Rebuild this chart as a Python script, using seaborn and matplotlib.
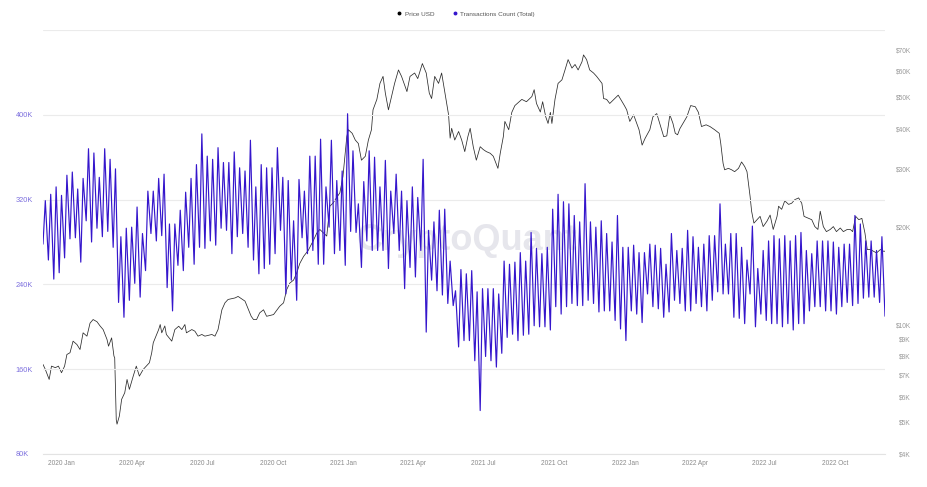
import matplotlib
matplotlib.use("Agg")
import matplotlib.pyplot as plt
import numpy as np
import pandas as pd
import seaborn as sns
from matplotlib.lines import Line2D
from matplotlib.ticker import NullLocator

# ---------------- data ----------------
# Transactions Count (Total), thousands: weekly weekend lows (Sundays) and weekday highs (Wednesdays)
TX_TROUGH_START = "2019-12-08"
TX_PEAK_START = "2019-12-11"
TX_TROUGHS_K = [
    278, 263, 245, 251, 265, 283, 284, 261, 300, 280,
    293, 285, 290, 275, 223, 209, 225, 241, 228, 253,
    288, 281, 286, 237, 215, 258, 253, 275, 259, 275,
    274, 281, 277, 293, 291, 269, 285, 288, 275, 263,
    250, 255, 259, 269, 291, 231, 244, 225, 284, 269,
    272, 259, 259, 294, 269, 272, 258, 290, 289, 256,
    281, 272, 272, 272, 255, 288, 272, 236, 256, 247,
    272, 195, 244, 234, 230, 222, 220, 181, 187, 187,
    168, 121, 172, 168, 162, 175, 190, 193, 187, 192,
    193, 201, 200, 200, 197, 219, 212, 219, 222, 220,
    220, 225, 222, 214, 215, 215, 206, 198, 187, 215,
    212, 204, 231, 219, 217, 209, 214, 225, 222, 215,
    215, 222, 219, 215, 225, 233, 231, 231, 209, 208,
    203, 231, 200, 212, 206, 203, 203, 200, 203, 197,
    203, 203, 215, 219, 219, 215, 215, 212, 219, 223,
    220, 222, 227, 228, 228, 223, 210,
]
TX_PEAKS_K = [
    319, 325, 332, 324, 343, 346, 330, 340, 368, 364,
    341, 368, 358, 349, 285, 293, 294, 313, 288, 328,
    328, 340, 344, 297, 297, 310, 327, 340, 353, 382,
    361, 358, 369, 355, 355, 365, 350, 347, 376, 332,
    353, 350, 350, 369, 341, 338, 300, 339, 328, 361,
    361, 377, 332, 376, 338, 347, 401, 366, 316, 337,
    366, 360, 332, 357, 328, 344, 328, 319, 332, 322,
    358, 291, 299, 310, 311, 262, 234, 254, 250, 253,
    233, 236, 236, 236, 231, 262, 259, 261, 270, 262,
    289, 274, 269, 275, 311, 325, 318, 316, 305, 299,
    335, 299, 294, 300, 288, 280, 305, 275, 275, 277,
    270, 270, 278, 277, 274, 259, 288, 272, 274, 291,
    285, 275, 278, 286, 286, 316, 278, 288, 288, 275,
    263, 295, 255, 272, 281, 286, 283, 286, 281, 286,
    289, 272, 269, 281, 281, 281, 280, 275, 278, 278,
    305, 297, 281, 281, 272, 285,
]

# Price USD, thousands
PRICE_DATES = [
    "2019-12-08", "2019-12-11", "2019-12-16", "2019-12-19", "2019-12-24", "2019-12-28",
    "2020-01-01", "2020-01-05", "2020-01-08", "2020-01-12", "2020-01-16", "2020-01-21",
    "2020-01-25", "2020-01-29", "2020-02-03", "2020-02-07", "2020-02-11", "2020-02-16",
    "2020-02-20", "2020-02-24", "2020-02-29", "2020-03-02", "2020-03-06", "2020-03-09",
    "2020-03-10", "2020-03-12", "2020-03-13", "2020-03-16", "2020-03-19", "2020-03-23",
    "2020-03-26", "2020-03-29", "2020-04-03", "2020-04-07", "2020-04-11", "2020-04-16",
    "2020-04-20", "2020-04-24", "2020-04-27", "2020-04-29", "2020-05-06", "2020-05-08",
    "2020-05-10", "2020-05-14", "2020-05-16", "2020-05-23", "2020-05-27", "2020-06-01",
    "2020-06-05", "2020-06-09", "2020-06-11", "2020-06-18", "2020-06-22", "2020-06-26",
    "2020-07-01", "2020-07-05", "2020-07-14", "2020-07-18", "2020-07-22", "2020-07-27",
    "2020-07-31", "2020-08-04", "2020-08-13", "2020-08-17", "2020-08-26", "2020-09-03",
    "2020-09-06", "2020-09-10", "2020-09-14", "2020-09-19", "2020-09-23", "2020-10-02",
    "2020-10-10", "2020-10-15", "2020-10-19", "2020-10-23", "2020-10-28", "2020-11-01",
    "2020-11-05", "2020-11-10", "2020-11-16", "2020-11-23", "2020-11-27", "2020-12-01",
    "2020-12-10", "2020-12-14", "2020-12-18", "2020-12-27", "2020-12-31", "2021-01-05",
    "2021-01-07", "2021-01-12", "2021-01-16", "2021-01-20", "2021-01-24", "2021-01-29",
    "2021-02-02", "2021-02-06", "2021-02-08", "2021-02-13", "2021-02-17", "2021-02-21",
    "2021-02-24", "2021-02-28", "2021-03-04", "2021-03-08", "2021-03-13", "2021-03-17",
    "2021-03-24", "2021-03-28", "2021-04-03", "2021-04-07", "2021-04-13", "2021-04-18",
    "2021-04-22", "2021-04-25", "2021-04-29", "2021-05-04", "2021-05-08", "2021-05-13",
    "2021-05-17", "2021-05-19", "2021-05-21", "2021-05-25", "2021-05-30", "2021-06-03",
    "2021-06-07", "2021-06-11", "2021-06-14", "2021-06-18", "2021-06-22", "2021-06-27",
    "2021-07-01", "2021-07-05", "2021-07-10", "2021-07-14", "2021-07-20", "2021-07-23",
    "2021-07-27", "2021-07-29", "2021-08-03", "2021-08-07", "2021-08-11", "2021-08-20",
    "2021-08-26", "2021-09-02", "2021-09-05", "2021-09-08", "2021-09-13", "2021-09-16",
    "2021-09-20", "2021-09-23", "2021-09-26", "2021-09-28", "2021-10-02", "2021-10-06",
    "2021-10-11", "2021-10-15", "2021-10-19", "2021-10-24", "2021-10-28", "2021-11-01",
    "2021-11-06", "2021-11-08", "2021-11-12", "2021-11-16", "2021-11-21", "2021-11-25",
    "2021-12-02", "2021-12-04", "2021-12-08", "2021-12-12", "2021-12-23", "2021-12-31",
    "2022-01-03", "2022-01-07", "2022-01-12", "2022-01-19", "2022-01-23", "2022-01-27",
    "2022-02-02", "2022-02-06", "2022-02-11", "2022-02-20", "2022-02-24", "2022-02-28",
    "2022-03-04", "2022-03-07", "2022-03-10", "2022-03-13", "2022-03-22", "2022-03-27",
    "2022-04-02", "2022-04-06", "2022-04-10", "2022-04-16", "2022-04-21", "2022-04-27",
    "2022-05-03", "2022-05-05", "2022-05-08", "2022-05-10", "2022-05-15", "2022-05-19",
    "2022-05-23", "2022-05-28", "2022-06-01", "2022-06-05", "2022-06-08", "2022-06-11",
    "2022-06-12", "2022-06-14", "2022-06-17", "2022-06-21", "2022-06-25", "2022-06-29",
    "2022-07-04", "2022-07-08", "2022-07-12", "2022-07-17", "2022-07-19", "2022-07-23",
    "2022-07-27", "2022-08-01", "2022-08-05", "2022-08-09", "2022-08-14", "2022-08-18",
    "2022-08-21", "2022-08-27", "2022-08-31", "2022-09-04", "2022-09-08", "2022-09-11",
    "2022-09-15", "2022-09-19", "2022-09-24", "2022-09-28", "2022-10-02", "2022-10-07",
    "2022-10-11", "2022-10-16", "2022-10-20", "2022-10-23", "2022-10-27", "2022-10-31",
    "2022-11-04", "2022-11-08", "2022-11-11", "2022-11-15", "2022-11-19", "2022-11-23",
    "2022-11-28", "2022-12-02", "2022-12-04",
]
PRICE_K = [
    7.54, 7.28, 6.78, 7.45, 7.37, 7.45,
    7.11, 7.45, 8.09, 8.19, 8.89, 8.68,
    8.38, 9.43, 9.21, 10.1, 10.36, 10.2,
    9.9, 9.65, 9.0, 8.58, 9.1, 8.0,
    7.9, 5.1, 4.94, 5.23, 5.89, 6.17,
    6.78, 6.32, 6.94, 7.45, 6.94, 7.28,
    7.45, 7.63, 8.19, 8.79, 9.65, 10.0,
    9.43, 9.9, 9.32, 8.89, 9.65, 9.88,
    9.65, 10.0, 9.43, 9.65, 9.54, 9.21,
    9.32, 9.21, 9.32, 9.21, 9.65, 11.1,
    11.66, 11.94, 12.07, 12.2, 11.8, 10.6,
    10.36, 10.36, 10.86, 11.1, 10.6, 10.73,
    11.38, 11.66, 12.8, 13.4, 13.7, 14.4,
    15.4, 16.2, 16.9, 18.2, 19.1, 19.6,
    18.7, 23.1, 23.6, 25.4, 28.5, 37.8,
    39.7, 38.7, 36.9, 36.0, 32.0, 32.9,
    36.9, 39.7, 45.7, 49.2, 55.1, 57.9,
    51.4, 45.7, 50.2, 55.1, 60.6, 57.9,
    52.0, 57.9, 59.3, 57.0, 63.4, 59.3,
    51.4, 49.5, 57.9, 55.1, 59.3, 50.2,
    44.1, 37.4, 40.1, 36.9, 39.2, 36.9,
    34.0, 37.8, 40.1, 35.2, 32.0, 35.2,
    34.5, 34.0, 33.6, 32.9, 30.2, 33.6,
    37.8, 42.1, 39.7, 44.9, 47.1, 49.2,
    48.4, 50.2, 52.7, 47.8, 45.0, 48.4,
    43.5, 41.5, 44.9, 41.5, 49.2, 55.1,
    56.5, 60.6, 65.2, 61.4, 63.0, 60.6,
    64.2, 67.4, 65.2, 60.6, 59.3, 57.9,
    55.1, 49.5, 49.2, 47.8, 50.7, 47.1,
    45.7, 42.1, 44.1, 39.7, 35.6, 37.4,
    39.7, 43.5, 44.5, 37.8, 38.0, 44.1,
    41.5, 38.7, 38.3, 40.0, 43.5, 47.1,
    46.7, 44.9, 40.6, 41.1, 40.6, 39.7,
    38.7, 36.0, 31.3, 29.9, 30.2, 29.9,
    29.5, 30.2, 31.6, 30.6, 29.5, 25.9,
    24.8, 22.3, 20.5, 21.0, 21.5, 20.0,
    20.8, 21.7, 19.6, 21.5, 23.1, 22.6,
    24.0, 23.4, 23.6, 24.2, 24.5, 23.6,
    21.5, 21.2, 21.0, 20.0, 19.6, 22.3,
    20.0, 19.3, 19.6, 20.0, 19.3, 19.8,
    19.3, 19.6, 19.6, 19.3, 21.5, 21.0,
    21.2, 19.1, 17.0, 17.0, 16.8, 16.6,
    17.0, 16.8, 16.8,
]

X_TICK_DATES = ["2020-01-01", "2020-04-01", "2020-07-01", "2020-10-01",
                "2021-01-01", "2021-04-01", "2021-07-01", "2021-10-01",
                "2022-01-01", "2022-04-01", "2022-07-01", "2022-10-01"]
X_TICK_LABELS = ["2020 Jan", "2020 Apr", "2020 Jul", "2020 Oct",
                 "2021 Jan", "2021 Apr", "2021 Jul", "2021 Oct",
                 "2022 Jan", "2022 Apr", "2022 Jul", "2022 Oct"]
LEFT_TICKS_K = [80, 160, 240, 320, 400]
LEFT_TICK_LABELS = ["80K", "160K", "240K", "320K", "400K"]
RIGHT_TICKS_K = [4, 5, 6, 7, 8, 9, 10, 20, 30, 40, 50, 60, 70]
RIGHT_TICK_LABELS = ["$4K", "$5K", "$6K", "$7K", "$8K", "$9K", "$10K",
                     "$20K", "$30K", "$40K", "$50K", "$60K", "$70K"]
SERIES_NAMES = ["Price USD", "Transactions Count (Total)"]

# ---------------- build frames ----------------
tx_df = pd.concat([
    pd.DataFrame({"date": pd.date_range(TX_TROUGH_START, periods=len(TX_TROUGHS_K), freq="7D"),
                  "tx": np.array(TX_TROUGHS_K) * 1000}),
    pd.DataFrame({"date": pd.date_range(TX_PEAK_START, periods=len(TX_PEAKS_K), freq="7D"),
                  "tx": np.array(TX_PEAKS_K) * 1000}),
]).sort_values("date").reset_index(drop=True)

price_df = pd.DataFrame({"date": pd.to_datetime(PRICE_DATES),
                         "price": np.array(PRICE_K) * 1000})

# ---------------- style ----------------
sns.set_style("white")
plt.rcParams["font.family"] = ["Liberation Sans", "DejaVu Sans"]

TX_COLOR = "#3516cc"
PRICE_COLOR = "#2a2a2a"
LEFT_LABEL_COLOR = "#7c6fde"
RIGHT_LABEL_COLOR = "#9a9a9a"
GRID_COLOR = "#ebebeb"

fig = plt.figure(figsize=(9.28, 4.87), dpi=100)
ax1 = fig.add_axes([43 / 928, 33 / 487, 842 / 928, 424 / 487])
ax2 = ax1.twinx()
ax1.set_zorder(2)
ax1.patch.set_visible(False)

# watermark (behind everything)
ax2.text(0.5036, 0.5047, "CryptoQuant", transform=ax2.transAxes, ha="center", va="center",
         fontsize=26, fontweight="bold", color="#e6e6ec", zorder=0)

sns.lineplot(data=price_df, x="date", y="price", ax=ax2, color=PRICE_COLOR,
             linewidth=0.55, estimator=None)
sns.lineplot(data=tx_df, x="date", y="tx", ax=ax1, color=TX_COLOR,
             linewidth=0.85, estimator=None)

# axes ranges
ax1.set_xlim(pd.Timestamp("2019-12-08"), pd.Timestamp("2022-12-04"))
ax1.set_ylim(80000, 480000)
ax2.set_yscale("log")
ax2.set_ylim(4000, 80400)

# left axis
ax1.set_yticks([v * 1000 for v in LEFT_TICKS_K] + [480000])
ax1.set_yticklabels(LEFT_TICK_LABELS + [""])
ax1.tick_params(axis="y", length=0, pad=19.5, labelcolor=LEFT_LABEL_COLOR, labelsize=5.3)
for lbl in ax1.get_yticklabels():
    lbl.set_horizontalalignment("left")
ax1.grid(axis="y", color=GRID_COLOR, linewidth=0.8)
ax1.grid(axis="x", visible=False)
ax1.set_axisbelow(True)

# right axis
ax2.yaxis.set_minor_locator(NullLocator())
ax2.set_yticks([v * 1000 for v in RIGHT_TICKS_K])
ax2.set_yticklabels(RIGHT_TICK_LABELS)
ax2.yaxis.set_minor_locator(NullLocator())
ax2.tick_params(axis="y", which="both", length=0, pad=18.7,
                labelcolor=RIGHT_LABEL_COLOR, labelsize=4.8)
for lbl in ax2.get_yticklabels():
    lbl.set_horizontalalignment("right")

# x axis
ax1.set_xticks(pd.to_datetime(X_TICK_DATES))
ax1.set_xticklabels(X_TICK_LABELS)
ax1.tick_params(axis="x", length=3, width=0.6, color="#e0e0e0", pad=1.5,
                labelcolor="#8a8a8a", labelsize=4.7)

for ax in (ax1, ax2):
    ax.set_xlabel("")
    ax.set_ylabel("")
    for s in ("top", "left", "right", "bottom"):
        ax.spines[s].set_visible(False)
ax1.spines["bottom"].set_visible(True)
ax1.spines["bottom"].set_color("#e3e3e3")
ax1.spines["bottom"].set_linewidth(0.8)

# legend
handles = [Line2D([], [], marker="o", linestyle="", color="black", markersize=1.8),
           Line2D([], [], marker="o", linestyle="", color=TX_COLOR, markersize=1.8)]
fig.legend(handles, SERIES_NAMES, loc="center", bbox_to_anchor=(0.502, 0.9713), ncol=2,
           frameon=False, fontsize=4.6, handlelength=0.8, handletextpad=0.4,
           columnspacing=2.9, labelcolor="#555555")

fig.savefig("out.png", dpi=100)
